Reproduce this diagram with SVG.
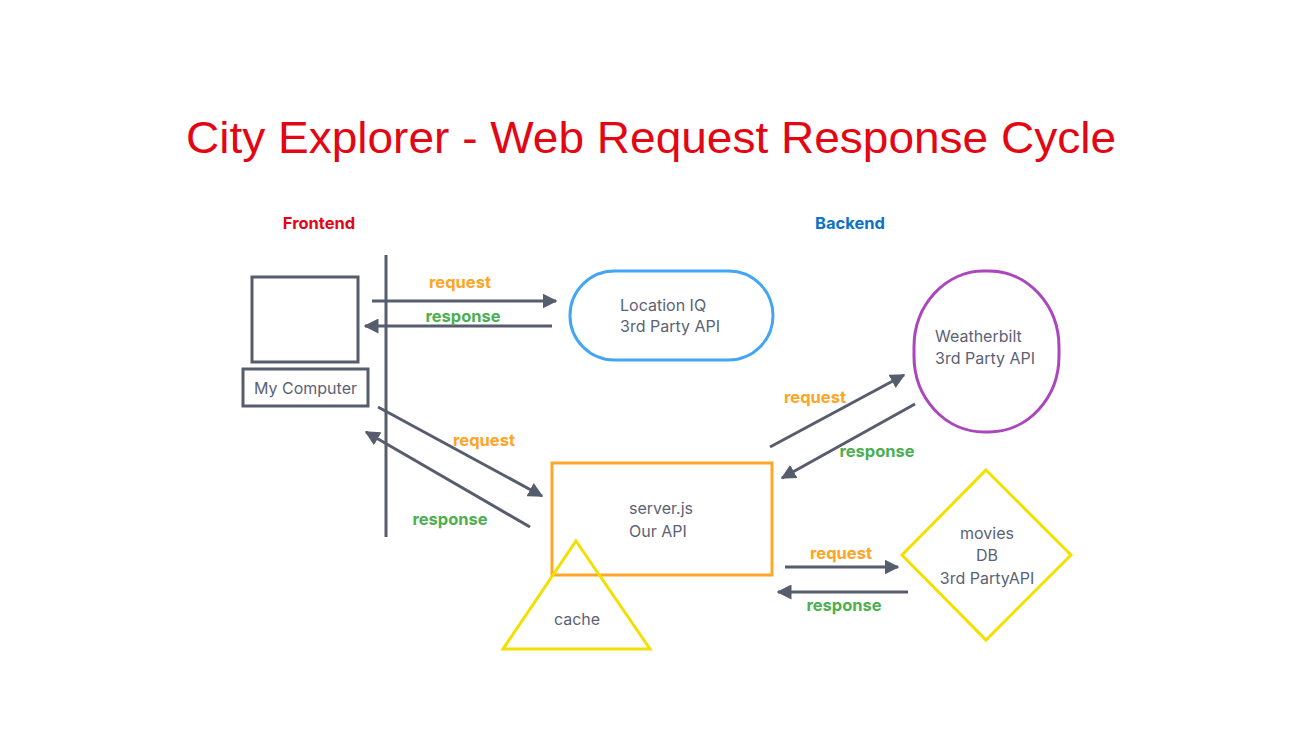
<svg xmlns="http://www.w3.org/2000/svg" width="1302" height="756" viewBox="0 0 1302 756">
<defs>
<style>
.title{font-family:"Liberation Sans",Arial,sans-serif;font-size:44px;fill:#e30613}
.hdr{font-family:Inter,"Noto Sans",sans-serif;font-size:16.5px;font-weight:bold}
.lbl{font-family:Inter,"Noto Sans",sans-serif;font-size:16.5px;font-weight:bold}
.req{fill:#ffa424}
.res{fill:#4caf50}
.txt{font-family:Inter,"Noto Sans",sans-serif;font-size:16px;fill:#5b6275}
.dark{fill:none;stroke:#565d6d;stroke-width:3}
.conn{fill:none;stroke:#565d6d;stroke-width:3}
</style>
<marker id="ah" viewBox="0 0 10 10" refX="9" refY="5" markerWidth="5" markerHeight="5" orient="auto" markerUnits="strokeWidth">
<path d="M0,0 L10,5 L0,10 z" fill="#565d6d"/>
</marker>
</defs>
<rect width="1302" height="756" fill="#ffffff"/>
<text class="title" x="651" y="153" text-anchor="middle" textLength="930" lengthAdjust="spacingAndGlyphs">City Explorer - Web Request Response Cycle</text>
<text class="hdr" x="319" y="229" text-anchor="middle" fill="#e30613">Frontend</text>
<text class="hdr" x="850" y="229" text-anchor="middle" fill="#0b72c7">Backend</text>

<g id="computer">
<rect class="dark" x="252" y="277" width="106" height="85"/>
<rect class="dark" x="243" y="369" width="125" height="37"/>
<text class="txt" x="305.5" y="394" text-anchor="middle">My Computer</text>
</g>
<g id="divider">
<line class="dark" x1="386" y1="255" x2="386" y2="537"/>
</g>
<g id="locationiq">
<rect x="570" y="271" width="203" height="89" rx="44.5" ry="44.5" fill="none" stroke="#42a5f5" stroke-width="3"/>
<text class="txt" x="620" y="311">Location IQ</text>
<text class="txt" x="620" y="332">3rd Party API</text>
</g>
<g id="weatherbilt">
<rect x="914" y="271" width="145" height="161" rx="70" ry="76" fill="none" stroke="#ab47bc" stroke-width="3"/>
<text class="txt" x="935" y="342">Weatherbilt</text>
<text class="txt" x="935" y="364">3rd Party API</text>
</g>
<g id="server">
<rect x="552" y="463" width="220" height="112" fill="none" stroke="#ffa726" stroke-width="3"/>
<text class="txt" x="629" y="514">server.js</text>
<text class="txt" x="629" y="537">Our API</text>
</g>
<g id="cache">
<polygon points="576,541 650,649 503,649" fill="none" stroke="#f2e000" stroke-width="3"/>
<text class="txt" x="577" y="625" text-anchor="middle">cache</text>
</g>
<g id="movies">
<polygon points="986,470 1071,555 986,640 902,555" fill="none" stroke="#f2e000" stroke-width="3"/>
<text class="txt" x="987" y="539" text-anchor="middle">movies</text>
<text class="txt" x="987" y="561" text-anchor="middle">DB</text>
<text class="txt" x="987" y="584" text-anchor="middle">3rd PartyAPI</text>
</g>

<g id="connectors">
<line class="conn" x1="372" y1="301" x2="556" y2="301" marker-end="url(#ah)"/>
<line class="conn" x1="552" y1="326" x2="365" y2="326" marker-end="url(#ah)"/>
<line class="conn" x1="378" y1="407" x2="542" y2="496" marker-end="url(#ah)"/>
<line class="conn" x1="530" y1="527" x2="366" y2="432" marker-end="url(#ah)"/>
<line class="conn" x1="770" y1="447" x2="904" y2="375" marker-end="url(#ah)"/>
<line class="conn" x1="915" y1="404" x2="782" y2="478" marker-end="url(#ah)"/>
<line class="conn" x1="785" y1="567" x2="898" y2="567" marker-end="url(#ah)"/>
<line class="conn" x1="908" y1="592" x2="778" y2="592" marker-end="url(#ah)"/>
<text class="lbl req" x="460" y="288" text-anchor="middle">request</text>
<text class="lbl res" x="463" y="322" text-anchor="middle">response</text>
<text class="lbl req" x="484" y="446" text-anchor="middle">request</text>
<text class="lbl res" x="450" y="525" text-anchor="middle">response</text>
<text class="lbl req" x="815" y="403" text-anchor="middle">request</text>
<text class="lbl res" x="877" y="457" text-anchor="middle">response</text>
<text class="lbl req" x="841" y="559" text-anchor="middle">request</text>
<text class="lbl res" x="844" y="611" text-anchor="middle">response</text>
</g>
</svg>
